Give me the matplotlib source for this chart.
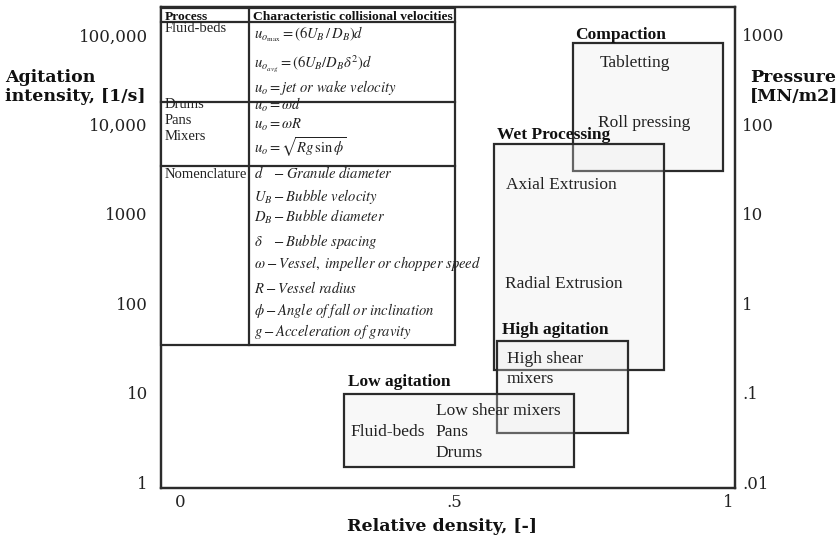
import matplotlib
matplotlib.use("Agg")
import matplotlib.pyplot as plt
import matplotlib.patches as patches
from matplotlib.ticker import NullLocator

plt.rcParams['mathtext.fontset'] = 'stix'

# process regions: relative density range [-] and agitation intensity range [1/s]
regions = ['Compaction', 'Wet Processing', 'High agitation', 'Low agitation']
density_lo = [0.717, 0.573, 0.578, 0.299]
density_hi = [0.991, 0.883, 0.818, 0.719]
agitation_lo = [3000, 18, 3.5, 1.47]
agitation_hi = [81600, 6000, 38, 9.6]
region_items = [
    ['Tabletting', 'Roll pressing'],
    ['Axial Extrusion', 'Radial Extrusion'],
    ['High shear', 'mixers'],
    ['Low shear mixers', 'Pans', 'Drums', 'Fluid-beds'],
]

# axis ticks
agit_ticks = [1, 10, 100, 1000, 10000, 100000]
agit_labels = ['1', '10', '100', '1000', '10,000', '100,000']
press_ticks = [0.01, 0.1, 1, 10, 100, 1000]
press_labels = ['.01', '.1', '1', '10', '100', '1000']
dens_ticks = [0, 0.5, 1]
dens_labels = ['0', '.5', '1']

# inset table
table_header = ['Process', 'Characteristic collisional velocities']
table_process = [['Fluid-beds'], ['Drums', 'Pans', 'Mixers'], ['Nomenclature']]
table_formulas = [
    [r'$u_{o_{\max}} = (6U_B\,/\,D_B)d$',
     r'$u_{o_{avg}} = \left(6U_B/D_B\delta^2\right)d$',
     r'$u_o = \mathit{jet\ or\ wake\ velocity}$'],
    [r'$u_o = \omega d$',
     r'$u_o = \omega R$',
     r'$u_o = \sqrt{Rg\,\sin\phi}$'],
    [r'$d\quad - \mathit{Granule\ diameter}$',
     r'$U_B - \mathit{Bubble\ velocity}$',
     r'$D_B - \mathit{Bubble\ diameter}$',
     r'$\delta\quad - \mathit{Bubble\ spacing}$',
     r'$\omega - \mathit{Vessel,\ impeller\ or\ chopper\ speed}$',
     r'$R - \mathit{Vessel\ radius}$',
     r'$\phi - \mathit{Angle\ of\ fall\ or\ inclination}$',
     r'$g - \mathit{Acceleration\ of\ gravity}$'],
]

# ---- layout (pixels) ----
W, H = 838, 545
title_off = [(2, 4), (3, 5), (5, 7), (4, 8)]
item_off = [
    [(27, -24), (25, -84)],
    [(12, -45), (11, -144)],
    [(10, -22), (10, -42)],
    [(92, -21), (92, -42), (92, -63), (7, -42)],
]
serif = 'Liberation Serif'
lab_font = 'DejaVu Serif'
edge = '#2b2b2b'

fig = plt.figure(figsize=(W / 100, H / 100), dpi=100)
ax = fig.add_axes([161 / W, 1 - 488 / H, (735 - 161) / W, (488 - 7) / H])
ax.set_yscale('log')
ax.set_xlim(-0.0347, 1.0128)
ylo, yhi = 0.857, 205600
ax.set_ylim(ylo, yhi)
for s in ax.spines.values():
    s.set_linewidth(1.6)
    s.set_color(edge)

ax.set_xticks(dens_ticks)
ax.set_xticklabels(dens_labels)
ax.set_yticks(agit_ticks)
ax.set_yticklabels(agit_labels)
ax.yaxis.set_minor_locator(NullLocator())
ax.tick_params(axis='y', length=0, pad=9.5, labelsize=12, labelcolor='#222')
ax.tick_params(axis='x', length=0, pad=4, labelsize=12, labelcolor='#222')
for t in ax.get_xticklabels() + ax.get_yticklabels():
    t.set_family(lab_font)

ax2 = ax.twinx()
ax2.set_yscale('log')
ax2.set_ylim(ylo / 100, yhi / 100)
ax2.set_yticks(press_ticks)
ax2.set_yticklabels(press_labels)
ax2.yaxis.set_minor_locator(NullLocator())
ax2.tick_params(axis='y', length=0, pad=5, labelsize=12, labelcolor='#222')
for t in ax2.get_yticklabels():
    t.set_family(lab_font)
for s in ax2.spines.values():
    s.set_linewidth(1.6)
    s.set_color(edge)

# process region boxes
for i, name in enumerate(regions):
    x0, x1 = density_lo[i], density_hi[i]
    y0, y1 = agitation_lo[i], agitation_hi[i]
    rect = patches.Rectangle((x0, y0), x1 - x0, y1 - y0, linewidth=1.6,
                             edgecolor=edge, facecolor=(0.92, 0.92, 0.92, 0.3), zorder=2)
    ax.add_patch(rect)
    ax.annotate(name, xy=(x0, y1), xytext=title_off[i], textcoords='offset pixels',
                ha='left', va='baseline', fontsize=12.5, fontweight='bold',
                family=serif, color='#111', zorder=4)
    for txt, off in zip(region_items[i], item_off[i]):
        ax.annotate(txt, xy=(x0, y1), xytext=off, textcoords='offset pixels',
                    ha='left', va='baseline', fontsize=12.5, family=serif,
                    color='#222', zorder=4)

# axis titles
fig.text(5 / W, 1 - 82 / H, 'Agitation', ha='left', va='baseline',
         fontsize=12.5, fontweight='bold', family=lab_font, color='#111')
fig.text(5 / W, 1 - 101 / H, 'intensity, [1/s]', ha='left', va='baseline',
         fontsize=12.5, fontweight='bold', family=lab_font, color='#111')
fig.text(750 / W, 1 - 82 / H, 'Pressure', ha='left', va='baseline',
         fontsize=12.5, fontweight='bold', family=lab_font, color='#111')
fig.text(750 / W, 1 - 101 / H, '[MN/m2]', ha='left', va='baseline',
         fontsize=12.5, fontweight='bold', family=lab_font, color='#111')
fig.text(442 / W, 1 - 531 / H, 'Relative density, [-]', ha='center', va='baseline',
         fontsize=12.5, fontweight='bold', family=lab_font, color='#111')

# table overlay in pixel coordinates
tax = fig.add_axes([0, 0, 1, 1], zorder=5)
tax.set_xlim(0, W)
tax.set_ylim(H, 0)
tax.axis('off')
tl, tr, tt, tb = 161, 455, 8, 345
col = 249
row_lines = [22, 102, 166]
tax.add_patch(patches.Rectangle((tl, tt), tr - tl, tb - tt, facecolor='white',
                                edgecolor=edge, linewidth=1.6))
for y in row_lines:
    tax.plot([tl, tr], [y, y], color=edge, lw=1.6)
tax.plot([col, col], [tt, tb], color=edge, lw=1.6)

tax.text(tl + 4, 19.5, table_header[0], fontsize=9.7, fontweight='bold', family=serif,
         va='baseline', color='#111')
tax.text(col + 4, 19.5, table_header[1], fontsize=9.7, fontweight='bold', family=serif,
         va='baseline', color='#111')

proc_base = [[32], [108, 124, 140], [178]]
form_base = [[38, 67, 92], [110, 129, 153], [178, 201, 222, 246, 268, 293, 315, 336]]
for r in range(3):
    for txt, yb in zip(table_process[r], proc_base[r]):
        tax.text(tl + 4, yb, txt, fontsize=10.5, family=serif, va='baseline', color='#222')
    for txt, yb in zip(table_formulas[r], form_base[r]):
        tax.text(col + 5, yb, txt, fontsize=10.5, va='baseline', color='#222')

fig.savefig('out.png', dpi=100)
